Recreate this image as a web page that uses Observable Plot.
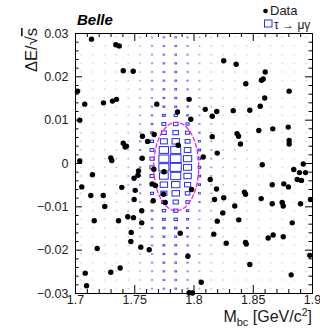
<!DOCTYPE html>
<html><head><meta charset="utf-8">
<script src="https://cdn.jsdelivr.net/npm/d3@7"></script>
<script src="https://cdn.jsdelivr.net/npm/@observablehq/plot@0.6"></script>
<style>
body{margin:0;background:#fff;}
#chart{position:relative;width:320px;height:328px;}
</style></head><body><div id="chart"></div>
<script>
// Data events (Mbc [GeV/c^2], ΔE/√s)
const dataMbc = [1.7135,1.7340,1.7369,1.8251,1.8356,1.7403,1.7487,1.8601,1.8584,1.8570,1.8437,1.7017,1.8803,1.8597,1.7959,1.7078,1.7236,1.7312,1.7346,1.7686,1.8559,1.7861,1.8095,1.8192,1.8331,1.8471,1.8154,1.7973,1.7036,1.8547,1.8665,1.8795,1.7565,1.7664,1.7608,1.8154,1.8363,1.8376,1.7403,1.7430,1.7419,1.7867,1.8392,1.8803,1.8803,1.7036,1.7298,1.7306,1.7563,1.8078,1.8196,1.8576,1.8922,1.8842,1.8890,1.8941,1.7143,1.7532,1.7527,1.7494,1.7661,1.7747,1.8137,1.8871,1.8907,1.8758,1.8797,1.8660,1.7053,1.7391,1.7647,1.7675,1.7504,1.7979,1.8190,1.8426,1.8435,1.7129,1.7234,1.7495,1.7656,1.7757,1.8173,1.8251,1.8567,1.8660,1.8744,1.8753,1.8899,1.8983,1.7247,1.8344,1.7559,1.8243,1.7158,1.7363,1.7441,1.7489,1.7559,1.8196,1.8378,1.8829,1.7470,1.7884,1.8167,1.7467,1.8272,1.8435,1.8441,1.8626,1.8668,1.8753,1.7183,1.7551,1.7622,1.7948,1.8977,1.8471,1.7377,1.7082,1.7298,1.8820,1.8061,1.7093,1.7959,1.7987,1.7743];
const dataDE = [0.0287,0.0274,0.0271,0.0237,0.0229,0.0214,0.0213,0.0211,0.0195,0.0192,0.0184,0.0167,0.0167,0.0151,0.0148,0.0137,0.0140,0.0144,0.0148,0.0137,0.0132,0.0119,0.0125,0.0120,0.0122,0.0123,0.0109,0.0102,0.0100,0.0076,0.0080,0.0084,0.0063,0.0067,0.0051,0.0062,0.0069,0.0063,0.0047,0.0040,0.0038,0.0042,0.0045,0.0053,0.0045,0.0006,0.0013,0.0007,0.0012,0.0015,0.0024,-0.0003,-0.0001,-0.0014,-0.0021,-0.0021,-0.0026,-0.0017,-0.0027,-0.0034,-0.0013,-0.0019,-0.0037,-0.0037,-0.0039,-0.0047,-0.0054,-0.0049,-0.0054,-0.0055,-0.0047,-0.0051,-0.0062,-0.0060,-0.0059,-0.0066,-0.0071,-0.0074,-0.0074,-0.0083,-0.0086,-0.0090,-0.0083,-0.0079,-0.0081,-0.0093,-0.0090,-0.0098,-0.0093,-0.0083,-0.0099,-0.0098,-0.0109,-0.0114,-0.0132,-0.0132,-0.0123,-0.0125,-0.0137,-0.0133,-0.0130,-0.0137,-0.0159,-0.0161,-0.0163,-0.0180,-0.0184,-0.0182,-0.0186,-0.0172,-0.0165,-0.0169,-0.0196,-0.0193,-0.0199,-0.0214,-0.0212,-0.0233,-0.0241,-0.0253,-0.0251,-0.0257,-0.0274,-0.0282,-0.0298,-0.0299,-0.0071];

// Signal MC 2D histogram (bin centres and relative contents)
const sigMbc = [1.705,1.715,1.725,1.735,1.745,1.755,1.765,1.775,1.785,1.795,1.805,1.815,1.825,1.835,1.845,1.855,1.865,1.875,1.885,1.895];
const sigDE = [0.029,0.027,0.025,0.023,0.021,0.019,0.017,0.015,0.013,0.011,0.009,0.007,0.005,0.003,0.001,-0.001,-0.003,-0.005,-0.007,-0.009,-0.011,-0.013,-0.015,-0.017,-0.019,-0.021,-0.023,-0.025,-0.027,-0.029];
const sigContent = [
[0,6,6,6,7,9,12,15,16,13,10,8,7,6,6,6,6,6,6,6],
[0,6,6,6,7,9,12,15,16,13,10,8,7,6,6,6,6,6,6,6],
[6,6,6,6,7,9,12,15,16,13,10,8,7,6,6,6,6,6,6,6],
[6,6,6,7,7,9,12,16,17,13,10,8,7,6,6,6,6,6,6,6],
[6,6,6,7,7,9,12,16,17,13,10,8,7,7,6,6,6,6,6,6],
[6,6,6,7,8,10,13,16,17,14,11,8,7,7,6,6,6,6,6,6],
[6,6,7,7,8,10,13,17,18,14,11,9,7,7,6,6,6,6,6,6],
[6,6,7,7,8,10,13,17,18,14,11,9,8,7,6,6,6,6,6,6],
[6,6,7,7,8,10,14,18,19,15,11,9,8,7,6,6,6,6,6,6],
[6,7,7,8,8,11,15,24,29,17,12,9,8,7,7,6,6,6,6,6],
[6,7,7,8,9,11,17,35,41,28,13,10,8,7,7,6,6,6,6,6],
[7,7,7,8,9,12,23,44,51,38,15,10,8,7,7,6,6,6,6,6],
[7,7,8,8,9,13,29,63,67,45,19,11,8,7,7,7,6,6,6,6],
[7,7,8,8,10,14,35,84,90,60,21,11,9,8,7,7,6,6,6,6],
[7,7,8,9,10,15,39,91,97,75,24,12,9,8,7,7,7,6,6,6],
[7,7,8,9,10,15,39,91,100,73,24,12,9,8,7,7,7,6,6,6],
[7,7,8,9,10,14,36,79,91,67,22,12,9,8,7,7,6,6,6,6],
[7,7,8,8,10,14,33,67,76,55,20,11,9,8,7,7,6,6,6,6],
[7,7,8,8,9,13,27,55,67,42,18,11,8,8,7,7,6,6,6,6],
[7,7,7,8,9,12,20,40,48,32,15,10,8,7,7,6,6,6,6,6],
[6,7,7,8,9,12,17,30,39,22,13,10,8,7,7,6,6,6,6,6],
[6,7,7,8,8,11,16,24,30,19,12,9,8,7,7,6,6,6,6,6],
[6,6,7,7,8,11,15,20,22,17,12,9,8,7,6,6,6,6,6,6],
[6,6,7,7,8,10,14,18,19,15,11,9,8,7,6,6,6,6,6,6],
[6,6,7,7,8,10,14,18,18,15,11,9,8,7,6,6,6,6,6,6],
[6,6,6,7,8,10,13,17,18,14,11,9,7,7,6,6,6,6,6,6],
[6,6,6,7,7,10,13,17,17,14,11,8,7,7,6,6,6,6,6,6],
[6,6,6,7,7,9,12,16,17,13,10,8,7,6,6,6,6,6,6,6],
[6,6,6,6,7,9,12,16,16,13,10,8,7,6,6,6,6,6,6,6],
[6,6,6,6,7,9,12,15,16,13,10,8,7,6,6,6,6,6,6,6]
];

// Signal region ellipse
const ellipseCenter = [1.785, -0.0007];
const ellipseRadii = [0.019, 0.0102];

// Axis ticks and labels
const xMajor = [1.7,1.75,1.8,1.85,1.9];
const xTickLabels = ["1.7","1.75","1.8","1.85","1.9"];
const xMinor = [1.71,1.72,1.73,1.74,1.76,1.77,1.78,1.79,1.81,1.82,1.83,1.84,1.86,1.87,1.88,1.89];
const yMajor = [0.03,0.02,0.01,0,-0.01,-0.02,-0.03];
const yTickLabels = ["0.03","0.02","0.01","0","\u22120.01","\u22120.02","\u22120.03"];
const yMinor = [0.028,0.026,0.024,0.022,0.018,0.016,0.014,0.012,0.008,0.006,0.004,0.002,-0.002,-0.004,-0.006,-0.008,-0.012,-0.014,-0.016,-0.018,-0.022,-0.024,-0.026,-0.028];

const W = 320, H = 328, mL = 75, mR = 8, mT = 33, mB = 35;
const innerW = W - mL - mR, innerH = H - mT - mB;

const events = dataMbc.map((m, i) => ({mbc: m, de: dataDE[i]}));
const binHalfX = (sigMbc[1] - sigMbc[0]) / 2;
const binHalfY = (sigDE[0] - sigDE[1]) / 2;
const maxFill = 0.93;
const blue = "#2a2ae6";
const faint = d3.interpolateRgb("#b0b0c4", blue);
const cells = [];
sigDE.forEach((yc, j) => sigMbc.forEach((xc, i) => {
  const v = sigContent[j][i];
  if (v > 0) cells.push({xc, yc, v});
}));
const ell = d3.range(0, 361, 4).map(a => ({
  x: ellipseCenter[0] + ellipseRadii[0] * Math.cos(a * Math.PI / 180),
  y: ellipseCenter[1] + ellipseRadii[1] * Math.sin(a * Math.PI / 180)
}));

const font = "'Liberation Sans', Arial, Helvetica, sans-serif";

const plot = Plot.plot({
  width: W, height: H,
  marginLeft: mL, marginRight: mR, marginTop: mT, marginBottom: mB,
  x: {domain: [1.7, 1.9]},
  y: {domain: [-0.03, 0.03]},
  color: {type: "identity"},
  opacity: {type: "identity"},
  style: {fontFamily: font, fontSize: "12.5px", color: "#1a1a1a", background: "white", overflow: "visible"},
  marks: [
    Plot.rect(cells, {
      x1: d => d.xc - binHalfX * maxFill * d.v / 100,
      x2: d => d.xc + binHalfX * maxFill * d.v / 100,
      y1: d => d.yc - binHalfY * maxFill * d.v / 100,
      y2: d => d.yc + binHalfY * maxFill * d.v / 100,
      fill: "none",
      stroke: d => faint(Math.min(1, Math.max(0, (d.v - 6) / 12))),
      strokeWidth: d => d.v < 20 ? 0.85 : 1,
      strokeOpacity: d => Math.min(1, 0.3 + d.v / 30)
    }),
    Plot.line(ell, {x: "x", y: "y", stroke: "#ee22ee", strokeWidth: 1.3, strokeDasharray: "4,2.5"}),
    Plot.dot(events, {x: "mbc", y: "de", r: 2.7, fill: "black", stroke: "none"}),
    Plot.frame({stroke: "black", strokeWidth: 1}),
    // bottom & top ticks
    Plot.tickX(xMajor, {x: d => d, insetTop: innerH - 8, stroke: "black"}),
    Plot.tickX(xMinor, {x: d => d, insetTop: innerH - 4, stroke: "black"}),
    Plot.tickX(xMajor, {x: d => d, insetBottom: innerH - 8, stroke: "black"}),
    Plot.tickX(xMinor, {x: d => d, insetBottom: innerH - 4, stroke: "black"}),
    // left & right ticks
    Plot.tickY(yMajor, {y: d => d, insetRight: innerW - 7, stroke: "black"}),
    Plot.tickY(yMinor, {y: d => d, insetRight: innerW - 3.5, stroke: "black"}),
    Plot.tickY(yMajor, {y: d => d, insetLeft: innerW - 7, stroke: "black"}),
    Plot.tickY(yMinor, {y: d => d, insetLeft: innerW - 3.5, stroke: "black"}),
    Plot.axisX(xMajor, {tickSize: 0, tickPadding: 2, label: null, fontSize: 12.5,
      tickFormat: d => xTickLabels[xMajor.indexOf(d)]}),
    Plot.axisY(yMajor, {tickSize: 0, tickPadding: 7, label: null, fontSize: 12.5,
      tickFormat: d => yTickLabels[yMajor.indexOf(d)]})
  ]
});

const svg = d3.select(plot);
svg.style("overflow", "visible");
// Belle label
svg.append("text").attr("x", 77).attr("y", 25).attr("text-anchor", "start")
  .attr("font-family", font).attr("font-size", 15).attr("font-weight", "bold").attr("font-style", "italic")
  .attr("fill", "black").text("Belle");
// Legend
svg.append("circle").attr("cx", 265.5).attr("cy", 11).attr("r", 2.3).attr("fill", "black");
svg.append("text").attr("x", 270).attr("y", 15).attr("text-anchor", "start").attr("font-family", font).attr("font-size", 13)
  .attr("fill", "#1a1a1a").text("Data");
svg.append("rect").attr("x", 264.5).attr("y", 20).attr("width", 7.5).attr("height", 7)
  .attr("fill", "none").attr("stroke", blue).attr("stroke-width", 1);
svg.append("text").attr("x", 274).attr("y", 28.5).attr("text-anchor", "start").attr("font-family", font).attr("font-size", 12)
  .attr("fill", "#1a1a1a").text("\u03C4 \u2192 \u03BC\u03B3");
// Y title
const yt = svg.append("text").attr("transform", "translate(37,28) rotate(-90)")
  .attr("text-anchor", "end").attr("font-family", font).attr("font-size", 16.5).attr("fill", "#1a1a1a");
yt.append("tspan").text("\u0394E/\u221A");
yt.append("tspan").style("text-decoration", "overline").text("s");
// X title
const xt = svg.append("text").attr("x", 312).attr("y", 322).attr("text-anchor", "end")
  .attr("font-family", font).attr("font-size", 16).attr("fill", "#1a1a1a");
xt.append("tspan").text("M");
xt.append("tspan").attr("font-size", 11).attr("dy", 4).text("bc");
xt.append("tspan").attr("dy", -4).text(" [GeV/c");
xt.append("tspan").attr("font-size", 10.5).attr("dy", -6).text("2");
xt.append("tspan").attr("dy", 6).text("]");

document.getElementById("chart").appendChild(plot);
</script>
</body></html>
